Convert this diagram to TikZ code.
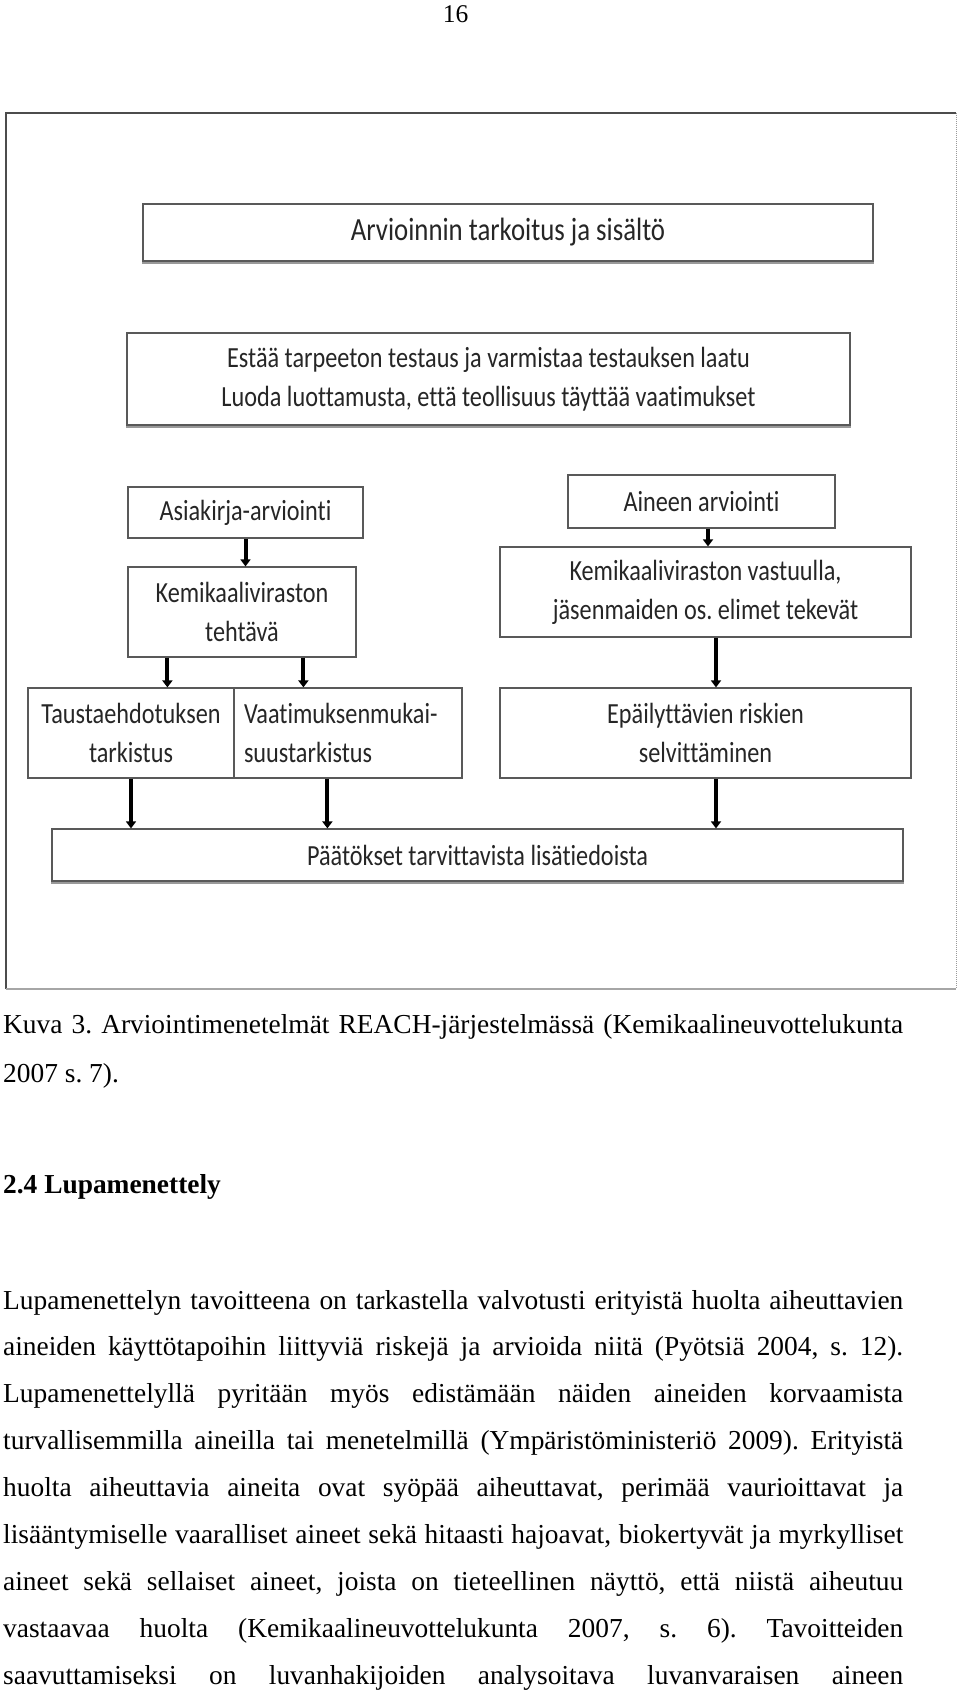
\documentclass[tikz,border=0pt]{standalone}
\usepackage{fontspec}
\setmainfont{Liberation Serif}
\newfontfamily\figfont{Carlito}[FakeStretch=0.83,Ligatures={NoCommon}]
\usetikzlibrary{arrows.meta}
\begin{document}
\frenchspacing
\begin{tikzpicture}[x=1pt,y=-1pt,
  box/.style={draw=black!65, line width=1.2pt, fill=white, inner sep=0pt, align=center,
    text=black!85, font=\figfont\fontsize{29.2}{39}\selectfont},
  bigfig/.style={font=\figfont\fontsize{32.3}{39}\selectfont},
  arr/.style={line width=4pt, -{Triangle[width=10pt,length=7pt]}},
  shadowline/.style={draw=black!40, line width=2.5pt},
  txt/.style={anchor=base west, inner sep=0pt, font=\fontsize{27.4}{30}\selectfont}]
\useasboundingbox (0,0) rectangle (960,1693);
\fill[white] (0,0) rectangle (960,1693);

% page number
\node[anchor=base, inner sep=0pt, font=\fontsize{25.5}{30}\selectfont] (pg) at (455.5,22.7) {16};

% figure frame
\draw[black!70, line width=1.6pt] (6,989) -- (6,113) -- (956,113);
\draw[black!40, densely dotted, line width=1pt] (956,113) -- (956,989);
\draw[black!35, line width=2pt] (6,989) -- (956,989);

% boxes
\node[box, bigfig, minimum width=730pt, minimum height=57pt] (A) at (508,232.5) {Arvioinnin tarkoitus ja sisältö};
\node[box, minimum width=723pt, minimum height=92pt] (B) at (488.5,379) {Estää tarpeeton testaus ja varmistaa testauksen laatu\\Luoda luottamusta, että teollisuus täyttää vaatimukset};
\node[box, minimum width=235pt, minimum height=51pt] (C) at (245.5,512.5) {Asiakirja-arviointi};
\node[box, minimum width=228pt, minimum height=90pt] (D) at (242,612) {Kemikaaliviraston\\tehtävä};
\node[box, minimum width=206pt, minimum height=90pt] (E) at (131,733) {Taustaehdotuksen\\tarkistus};
\node[box, align=left, text width=208pt, minimum width=228pt, minimum height=90pt] (F) at (348,733) {Vaatimuksenmukai-\\suustarkistus};
\node[box, minimum width=267pt, minimum height=53pt] (G) at (701.5,501.5) {Aineen arviointi};
\node[box, minimum width=411pt, minimum height=90pt] (H) at (705.5,592) {Kemikaaliviraston vastuulla,\\jäsenmaiden os. elimet tekevät};
\node[box, minimum width=411pt, minimum height=90pt] (I) at (705.5,733) {Epäilyttävien riskien\\selvittäminen};
\node[box, minimum width=851pt, minimum height=52pt] (J) at (477.5,855) {Päätökset tarvittavista lisätiedoista};

% shadows
\draw[shadowline] ([yshift=-1.6pt]A.south west) -- ([yshift=-1.6pt]A.south east);
\draw[shadowline] ([yshift=-1.6pt]B.south west) -- ([yshift=-1.6pt]B.south east);
\draw[shadowline] ([yshift=-1.6pt]J.south west) -- ([yshift=-1.6pt]J.south east);

% arrow anchors
\path (D.south west) ++(40,0) coordinate (d1);
\path (D.south west) ++(176,0) coordinate (d2);
\path (F.south west) ++(94,0) coordinate (f1);
\path (G.south) ++(6.5,0) coordinate (g1);
\path (H.south) ++(10.5,0) coordinate (h1);
\path (I.south) ++(10.5,0) coordinate (i1);

% arrows
\draw[arr] (C.south) -- (C.south |- D.north);
\draw[arr] (d1) -- (d1 |- E.north);
\draw[arr] (d2) -- (d2 |- F.north);
\draw[arr] (E.south) -- (E.south |- J.north);
\draw[arr] (f1) -- (f1 |- J.north);
\draw[arr] (g1) -- (g1 |- H.north);
\draw[arr] (h1) -- (h1 |- I.north);
\draw[arr] (i1) -- (i1 |- J.north);

% caption
\node[txt] (cap1) at (3,1033) {\makebox[900pt][s]{Kuva 3. Arviointimenetelmät REACH-järjestelmässä (Kemikaalineuvottelukunta}};
\node[txt] (cap2) at (3,1082) {2007 s. 7).};

% heading
\node[txt, font=\fontsize{27.4}{30}\selectfont\bfseries] (hd) at (3,1193) {2.4 Lupamenettely};

% body
\node[txt] (l1) at (3,1309) {\makebox[900pt][s]{Lupamenettelyn tavoitteena on tarkastella valvotusti erityistä huolta aiheuttavien}};
\node[txt] (l2) at (3,1355.9) {\makebox[900pt][s]{aineiden käyttötapoihin liittyviä riskejä ja arvioida niitä (Pyötsiä 2004, s. 12).}};
\node[txt] (l3) at (3,1402.8) {\makebox[900pt][s]{Lupamenettelyllä pyritään myös edistämään näiden aineiden korvaamista}};
\node[txt] (l4) at (3,1449.7) {\makebox[900pt][s]{turvallisemmilla aineilla tai menetelmillä (Ympäristöministeriö 2009). Erityistä}};
\node[txt] (l5) at (3,1496.6) {\makebox[900pt][s]{huolta aiheuttavia aineita ovat syöpää aiheuttavat, perimää vaurioittavat ja}};
\node[txt] (l6) at (3,1543.5) {\makebox[900pt][s]{lisääntymiselle vaaralliset aineet sekä hitaasti hajoavat, biokertyvät ja myrkylliset}};
\node[txt] (l7) at (3,1590.4) {\makebox[900pt][s]{aineet sekä sellaiset aineet, joista on tieteellinen näyttö, että niistä aiheutuu}};
\node[txt] (l8) at (3,1637.3) {\makebox[900pt][s]{vastaavaa huolta (Kemikaalineuvottelukunta 2007, s. 6). Tavoitteiden}};
\node[txt] (l9) at (3,1684.2) {\makebox[900pt][s]{saavuttamiseksi on luvanhakijoiden analysoitava luvanvaraisen aineen}};
\end{tikzpicture}
\end{document}
